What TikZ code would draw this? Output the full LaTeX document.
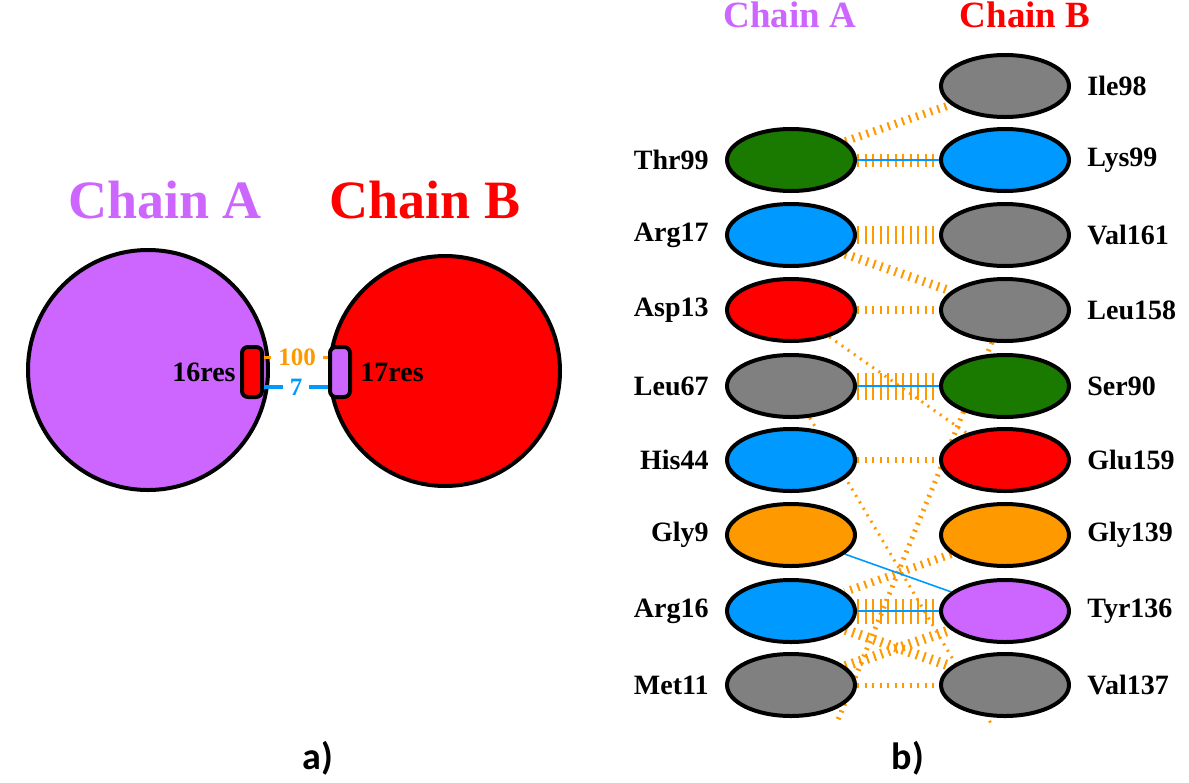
\documentclass[tikz,border=0pt]{standalone}
\usepackage{fontspec}
\setmainfont{Liberation Serif}
\newfontfamily\capfont{Carlito}
\usetikzlibrary{shapes.geometric,positioning,backgrounds}
\definecolor{cpurple}{RGB}{204,102,255}
\definecolor{cgreen}{RGB}{26,122,0}
\definecolor{cblue}{RGB}{0,153,255}
\definecolor{cgray}{RGB}{128,128,128}
\definecolor{corange}{RGB}{255,153,0}
\begin{document}
\begin{tikzpicture}[x=0.5pt,y=-0.5pt,
    res/.style={ellipse,draw=black,line width=2pt,minimum width=64pt,minimum height=31pt,inner sep=0pt},
    resname/.style={font=\fontsize{14}{16}\selectfont\bfseries,inner sep=0pt},
    chain/.style={circle,draw=black,line width=2pt,inner sep=0pt},
    patch/.style={rectangle,rounded corners=3pt,draw=black,line width=2pt,minimum width=10pt,minimum height=25pt,inner sep=0pt},
    nb/.style={draw=corange,line width=#1,dash pattern=on 1pt off 2.75pt},
    nb/.default=4pt,
    hb/.style={draw=cblue,line width=1pt}]
        \useasboundingbox (0,0) rectangle (1189,782);
        % a) the two chains
        \node[chain,fill=cpurple,minimum size=120pt] (chA) at (148,370) {};
        \node[chain,fill=red,minimum size=115pt] (chB) at (445,371) {};
        \node[text=cpurple,font=\fontsize{27}{30}\selectfont\bfseries] (tA) at (165,200) {Chain A};
        \node[text=red,font=\fontsize{27}{30}\selectfont\bfseries] (tB) at (425,200) {Chain B};
        \node[patch,fill=red] (pA) at (252,372) {};
        \node[patch,fill=cpurple] (pB) at (340,372) {};
        \node[resname,left=2pt of pA] (nA) {16res};
        \node[resname,right=4pt of pB] (nB) {17res};
        \node[text=corange,font=\fontsize{12.5}{14}\selectfont\bfseries] (n100) at (297,357) {100};
        \node[text=cblue,font=\fontsize{12.5}{14}\selectfont\bfseries] (n7) at (296,387) {7};
        \draw[corange,line width=1.5pt] (pA.east |- n100) -- (n100);
        \draw[corange,line width=1.5pt] (n100) -- (pB.west |- n100);
        \draw[cblue,line width=2pt] (pA.east |- n7) -- (n7);
        \draw[cblue,line width=2pt] (n7) -- (pB.west |- n7);
        % b) residues
        \node[text=cpurple,font=\fontsize{18.5}{20}\selectfont\bfseries] (hA) at (790,15) {Chain A};
        \node[text=red,font=\fontsize{18.5}{20}\selectfont\bfseries] (hB) at (1025,15) {Chain B};
        \node[res,fill=cgray] (ile98) at (1005,86) {};
        \node[res,fill=cgreen] (thr99) at (791,160) {};
        \node[res,fill=cblue] (lys99) at (1005,160) {};
        \node[res,fill=cblue] (arg17) at (791,235) {};
        \node[res,fill=cgray] (val161) at (1005,235) {};
        \node[res,fill=red] (asp13) at (791,310) {};
        \node[res,fill=cgray] (leu158) at (1005,310) {};
        \node[res,fill=cgray] (leu67) at (791,386) {};
        \node[res,fill=cgreen] (ser90) at (1005,386) {};
        \node[res,fill=cblue] (his44) at (791,460) {};
        \node[res,fill=red] (glu159) at (1005,460) {};
        \node[res,fill=corange] (gly9) at (791,535) {};
        \node[res,fill=corange] (gly139) at (1005,535) {};
        \node[res,fill=cblue] (arg16) at (791,611) {};
        \node[res,fill=cpurple] (tyr136) at (1005,611) {};
        \node[res,fill=cgray] (met11) at (791,685) {};
        \node[res,fill=cgray] (val137) at (1005,685) {};
        \node[resname,right=8pt of ile98] (lile98) {Ile98};
        \node[resname,left=8pt of thr99] (lthr99) {Thr99};
        \node[resname,right=8pt of lys99] (llys99) {Lys99};
        \node[resname,left=8pt of arg17] (larg17) {Arg17};
        \node[resname,right=8pt of val161] (lval161) {Val161};
        \node[resname,left=8pt of asp13] (lasp13) {Asp13};
        \node[resname,right=8pt of leu158] (lleu158) {Leu158};
        \node[resname,left=8pt of leu67] (lleu67) {Leu67};
        \node[resname,right=8pt of ser90] (lser90) {Ser90};
        \node[resname,left=8pt of his44] (lhis44) {His44};
        \node[resname,right=8pt of glu159] (lglu159) {Glu159};
        \node[resname,left=8pt of gly9] (lgly9) {Gly9};
        \node[resname,right=8pt of gly139] (lgly139) {Gly139};
        \node[resname,left=8pt of arg16] (larg16) {Arg16};
        \node[resname,right=8pt of tyr136] (ltyr136) {Tyr136};
        \node[resname,left=8pt of met11] (lmet11) {Met11};
        \node[resname,right=8pt of val137] (lval137) {Val137};
        % contacts, behind the residues
        \begin{scope}[on background layer]
            \clip (600,0) rectangle (1189,722);
            \coordinate (offR) at (1015,764);
            \coordinate (offL) at (820,764);
            \draw[nb=1.5pt] (leu67) -- (offR);
            \draw[nb=2.5pt] (leu158) -- (offL);
            \draw[nb=4pt] (thr99) -- (ile98);
            \draw[nb=6.5pt] (thr99) -- (lys99);
            \draw[hb] (thr99) -- (lys99);
            \draw[nb=9pt] (arg17) -- (val161);
            \draw[nb=4.5pt] (arg17) -- (leu158);
            \draw[nb=4pt] (asp13) -- (leu158);
            \draw[nb=1.5pt] (asp13) -- (glu159);
            \draw[nb=13.5pt] (leu67) -- (ser90);
            \draw[hb] (leu67) -- (ser90);
            \draw[nb=3pt] (his44) -- (glu159);
            \draw[nb=4pt] (gly139) -- (arg16);
            \draw[hb,line width=0.8pt] (gly9) -- (tyr136);
            \draw[nb=12.5pt] (arg16) -- (tyr136);
            \draw[hb] (arg16) -- (tyr136);
            \draw[nb=5pt] (arg16) -- (val137);
            \draw[nb=5pt] (met11) -- (tyr136);
            \draw[nb=2.5pt] (met11) -- (val137);
        \end{scope}
        % panel captions
        \node[font=\capfont\fontsize{19}{21}\selectfont\bfseries] (capa) at (318,758) {a)};
        \node[font=\capfont\fontsize{19}{21}\selectfont\bfseries] (capb) at (908,758) {b)};
    \end{tikzpicture}
\end{document}
